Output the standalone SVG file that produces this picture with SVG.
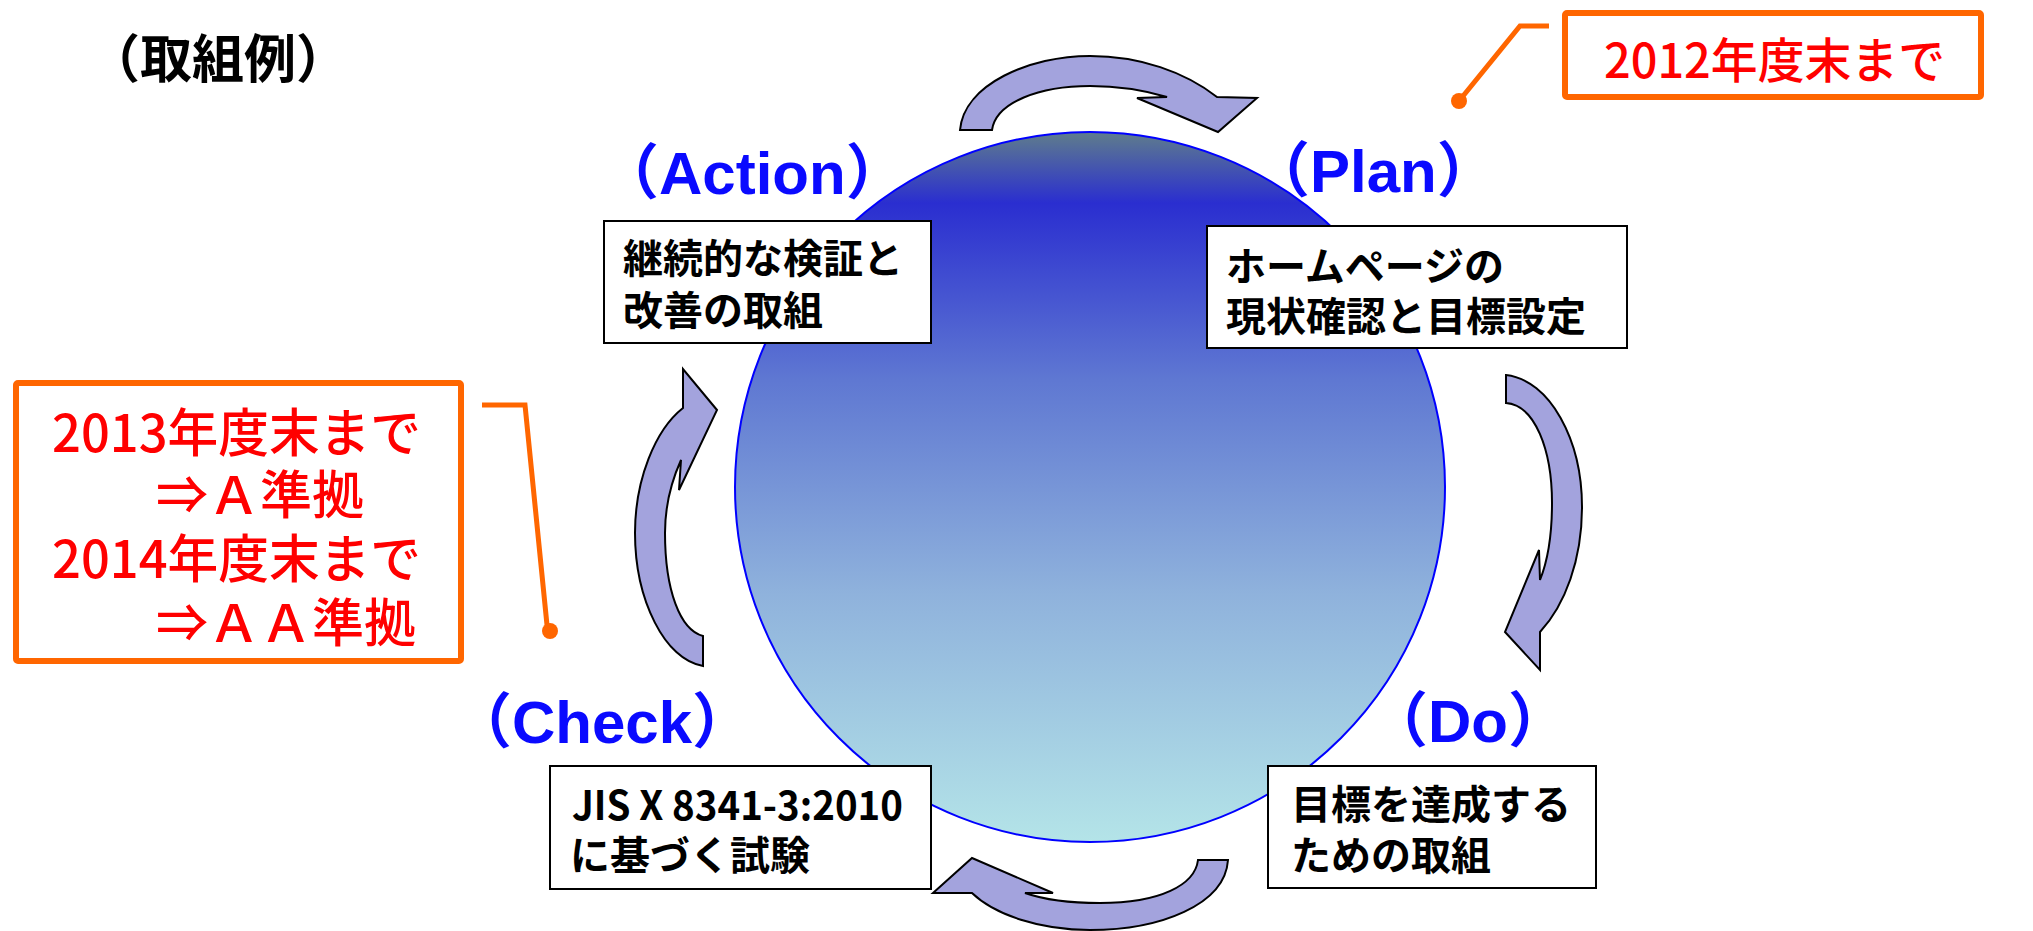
<svg xmlns="http://www.w3.org/2000/svg" width="2033" height="931" viewBox="0 0 2033 931">
<style>
.jp{font-family:"Noto Sans CJK JP","Liberation Sans",sans-serif;}
.box{fill:#ffffff;stroke:#000000;stroke-width:2;}
.bt{font-family:"Noto Sans CJK JP",sans-serif;font-size:40px;font-weight:bold;fill:#000000;}
.lbl{font-family:"Liberation Sans","Noto Sans CJK JP",sans-serif;font-size:60px;font-weight:bold;fill:#0a0aff;}
.arr{fill:#a3a3dd;stroke:#000000;stroke-width:2;stroke-linejoin:miter;}
.call{fill:#ffffff;stroke:#ff6600;stroke-width:6;}
.ct{font-family:"Noto Sans CJK JP",sans-serif;font-weight:500;fill:#ff0000;}
.lead{fill:none;stroke:#ff6600;stroke-width:5;}
</style>
<defs>
<linearGradient id="g" x1="0" y1="0" x2="0" y2="1">
<stop offset="0" stop-color="#5f7d8c"/>
<stop offset="0.1" stop-color="#2a2ed0"/>
<stop offset="0.35" stop-color="#5f78d2"/>
<stop offset="0.65" stop-color="#8fb2dc"/>
<stop offset="1" stop-color="#b4e4e8"/>
</linearGradient>
</defs>

<text class="jp" x="88" y="78" font-size="52" font-weight="bold" fill="#000">（取組例）</text>

<g id="cycle">
<circle cx="1090" cy="487" r="355" fill="url(#g)" stroke="#0000ff" stroke-width="2"/>
</g>

<g id="connectors">
<path id="arrow-top" class="arr" d="M960,130 C964,84 1030,56 1090,56 C1140,56 1185,72 1217,97 L1257,98 L1218,132 L1137,98 L1167,97 C1140,89 1115,86 1090,86 C1040,86 996,102 992,130 Z"/>
<path id="arrow-right" class="arr" d="M1506,375 C1550,380 1582,440 1582,507 C1582,560 1565,605 1540,632 L1540,670 L1505,632 L1539,550 L1540,580 C1548,560 1552,535 1552,503 C1552,450 1535,405 1506,403 Z"/>
<path id="arrow-bottom" class="arr" d="M1228,860 C1225,905 1160,930 1090,930 C1040,930 995,915 972,893 L933,893 L972,858 L1053,893 L1025,893 C1045,900 1070,903 1100,903 C1160,903 1195,885 1198,860 Z"/>
<path id="arrow-left" class="arr" d="M703,666 C665,660 635,600 635,533 C635,480 655,430 683,408 L683,369 L717,410 L679,490 L681,460 C672,480 665,505 665,533 C665,590 680,630 703,636 Z"/>
<polyline class="lead" points="1549,26 1520,26 1459,101"/>
<circle cx="1459" cy="101" r="8" fill="#ff6600"/>
<polyline class="lead" points="482,405 525,405 547,625"/>
<circle cx="550" cy="631" r="8" fill="#ff6600"/>
</g>

<g id="action">
<text class="lbl" x="599" y="194">（Action）</text>
<rect class="box" x="604" y="221" width="327" height="122"/>
<text class="bt" x="623" y="273">継続的な検証と</text>
<text class="bt" x="623" y="325">改善の取組</text>
</g>

<g id="plan">
<text class="lbl" x="1250" y="192">（Plan）</text>
<rect class="box" x="1207" y="226" width="420" height="122"/>
<text class="bt" x="1226" y="281">ホームページの</text>
<text class="bt" x="1226" y="331">現状確認と目標設定</text>
</g>

<g id="check">
<text class="lbl" x="452" y="743">（Check）</text>
<rect class="box" x="550" y="766" width="381" height="123"/>
<text class="bt" x="572" y="820" textLength="331" lengthAdjust="spacingAndGlyphs">JIS X 8341-3:2010</text>
<text class="bt" x="570" y="870">に基づく試験</text>
</g>

<g id="do">
<text class="lbl" x="1368" y="742">（Do）</text>
<rect class="box" x="1268" y="766" width="328" height="122"/>
<text class="bt" x="1291" y="819">目標を達成する</text>
<text class="bt" x="1291" y="870">ための取組</text>
</g>

<g id="note-2012">
<rect class="call" x="1565" y="13" width="416" height="84" rx="2"/>
<text class="ct" x="1604" y="78" font-size="48" textLength="341" lengthAdjust="spacingAndGlyphs">2012年度末まで</text>
</g>

<g id="note-2013">
<rect class="call" x="16" y="383" width="445" height="278" rx="2"/>
<text class="ct" x="52" y="452" font-size="52" textLength="369" lengthAdjust="spacingAndGlyphs">2013年度末まで</text>
<text class="ct" x="156" y="514" font-size="52">⇒Ａ準拠</text>
<text class="ct" x="52" y="578" font-size="52" textLength="369" lengthAdjust="spacingAndGlyphs">2014年度末まで</text>
<text class="ct" x="156" y="642" font-size="52">⇒ＡＡ準拠</text>
</g>
</svg>
